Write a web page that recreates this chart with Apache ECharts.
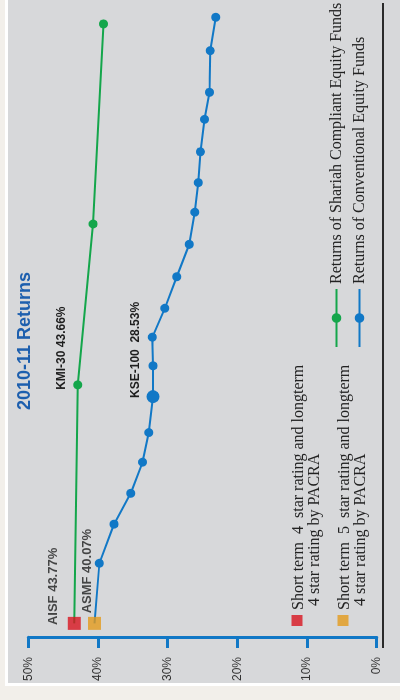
<!DOCTYPE html>
<html>
<head>
<meta charset="utf-8">
<script src="https://cdn.jsdelivr.net/npm/echarts@6/dist/echarts.min.js"></script>
<style>
  html, body { margin: 0; padding: 0; width: 400px; height: 700px; overflow: hidden; background: #f2efea; }
  #panel { position: absolute; left: 5px; top: -3px; width: 400px; height: 683px; border: 3px solid #ffffff; background: #d7d8da; }
  #chart { position: absolute; left: 0; top: 700px; width: 700px; height: 400px; transform-origin: 0 0; transform: rotate(-90deg); }
</style>
</head>
<body>
<div id="panel"></div>
<div id="chart"></div>
<script>
// Fund rank positions (horizontal order of funds) and returns (%)
const shariahPos = [0.46, 7.96, 13.02, 19.31];
const shariahVals = [43.4, 42.9, 40.7, 39.2];
const conventionalPos = [0.46, 2.35, 3.58, 4.55, 5.53, 6.46, 7.59, 8.56, 9.46, 10.37, 11.36, 12.38, 13.39, 14.32, 15.29, 16.31, 17.16, 18.47, 19.52];
const conventionalVals = [40.5, 39.8, 37.7, 35.3, 33.6, 32.7, 32.1, 32.1, 32.2, 30.4, 28.7, 26.9, 26.1, 25.6, 25.3, 24.7, 24.0, 23.9, 23.1];
const seriesNames = ['Returns of Shariah Compliant Equity Funds', 'Returns of Conventional Equity Funds'];
const ratingNames = ['AISF', 'ASMF'];
const ratingTexts = ['Short term  4  star rating and longterm\n 4 star rating by PACRA', 'Short term  5  star rating and longterm\n 4 star rating by PACRA'];
const pointLabels = { AISF: 'AISF 43.77%', ASMF: 'ASMF 40.07%', KMI: 'KMI-30 43.66%', KSE: 'KSE-100  28.53%' };
const yTicks = { min: 0, max: 50, interval: 10 };
const titleText = '2010-11 Returns';

const GREEN = '#14a64b', BLUE = '#1178c6', RED = '#d8141f', ORANGE = '#e49a1c';
const labelBold = { fontFamily: 'Liberation Sans, Arial, sans-serif', fontWeight: 'bold', color: '#1e1e1e' };
const serif = 'Liberation Serif, Times New Roman, serif';

const greenData = shariahPos.map((p, i) => {
  const d = { value: [p, shariahVals[i]] };
  if (i === 0) d.symbol = 'none';
  if (i === 1) d.label = Object.assign({ show: true, formatter: pointLabels.KMI, position: [-0.5, -11.8], align: 'left', verticalAlign: 'middle', fontSize: 12 }, labelBold);
  return d;
});
const blueData = conventionalPos.map((p, i) => {
  const d = { value: [p, conventionalVals[i]] };
  if (i === 0) d.symbol = 'none';
  if (i === 6) {
    d.symbolSize = 13;
    d.label = Object.assign({ show: true, formatter: pointLabels.KSE, position: [5.2, -10.5], align: 'left', verticalAlign: 'middle', fontSize: 12 }, labelBold);
  }
  return d;
});

// square icon drawn in the upper part of a taller box so it lines up with the first text line
const squareIcon = 'path://M0,0h11v11h-11z M0,29.99h0.01v0.01h-0.01z';

const chart = echarts.init(document.getElementById('chart'), null, { renderer: 'canvas' });
chart.setOption({
  animation: false,
  backgroundColor: 'transparent',
  title: {
    text: titleText, left: 290, top: 16, padding: 0,
    textStyle: { fontFamily: 'Liberation Sans, Arial, sans-serif', fontWeight: 'bold', fontSize: 18, lineHeight: 18, color: '#1d5fae' }
  },
  grid: { left: 62, right: 2, top: 28.3, bottom: 23.3 },
  xAxis: { type: 'value', min: 0, max: 20, show: false },
  yAxis: {
    type: 'value', min: yTicks.min, max: yTicks.max, interval: yTicks.interval,
    axisLine: { show: true, lineStyle: { color: BLUE, width: 3 } },
    axisTick: { show: true, length: 10, lineStyle: { color: BLUE, width: 3 } },
    splitLine: { show: false },
    axisLabel: { formatter: '{value}%', margin: 19, fontSize: 12, color: '#333', fontFamily: 'Liberation Sans, Arial, sans-serif' }
  },
  legend: [
    {
      data: seriesNames, orient: 'vertical', left: 352, top: 327.5, padding: 0, itemWidth: 58, itemHeight: 12, itemGap: 5,
      textStyle: { fontFamily: serif, fontSize: 16, lineHeight: 18, color: '#222' },
      selectedMode: false
    },
    {
      data: ratingNames, orient: 'vertical', left: 74, top: 290.6, padding: 0, itemWidth: 11, itemHeight: 30, itemGap: 14, icon: squareIcon,
      formatter: name => ratingTexts[ratingNames.indexOf(name)],
      textStyle: { fontFamily: serif, fontSize: 16, lineHeight: 16, color: '#222' },
      selectedMode: false
    }
  ],
  graphic: [
    { type: 'line', shape: { x1: 52, y1: 383, x2: 697, y2: 383 }, style: { stroke: '#2a2a2a', lineWidth: 2 } }
  ],
  series: [
    {
      name: seriesNames[0], type: 'line', data: greenData, color: GREEN,
      symbol: 'circle', symbolSize: 9, lineStyle: { width: 2, color: GREEN }, itemStyle: { color: GREEN }, z: 2
    },
    {
      name: seriesNames[1], type: 'line', data: blueData, color: BLUE,
      symbol: 'circle', symbolSize: 9, lineStyle: { width: 2, color: BLUE }, itemStyle: { color: BLUE }, z: 2
    },
    {
      name: ratingNames[0], type: 'scatter', symbol: 'rect', symbolSize: 13, itemStyle: { color: RED }, z: 5,
      label: Object.assign({ show: true, formatter: pointLabels.AISF, position: [4.8, -14.2], align: 'left', verticalAlign: 'middle', fontSize: 13 }, labelBold),
      data: [[shariahPos[0], shariahVals[0]]]
    },
    {
      name: ratingNames[1], type: 'scatter', symbol: 'rect', symbolSize: 13, itemStyle: { color: ORANGE }, z: 5,
      label: Object.assign({ show: true, formatter: pointLabels.ASMF, position: [16.5, -0.8], align: 'left', verticalAlign: 'middle', fontSize: 13 }, labelBold),
      data: [[conventionalPos[0], conventionalVals[0]]]
    }
  ]
});
</script>
</body>
</html>
